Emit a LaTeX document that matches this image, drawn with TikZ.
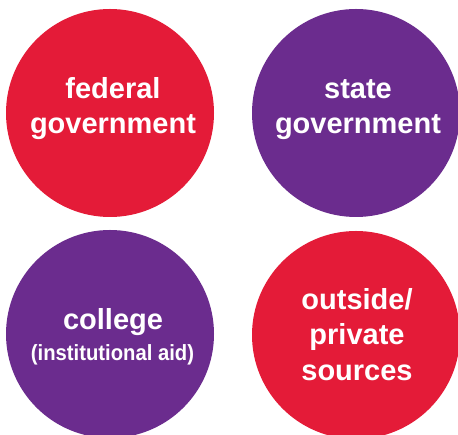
\documentclass[tikz,border=0pt]{standalone}
\usepackage{fontspec}
\setmainfont{Liberation Sans}
\definecolor{fredred}{RGB}{228,27,56}
\definecolor{fredpurple}{RGB}{107,44,142}
\begin{document}
\begin{tikzpicture}[x=1pt,y=1pt,
  disc/.style={circle,minimum size=208pt,inner sep=0pt,draw=none},
  lbl/.style={anchor=base,text=white,font=\bfseries\fontsize{29}{34}\selectfont,inner sep=0pt},
  sublbl/.style={anchor=base,text=white,font=\bfseries\fontsize{22}{26}\selectfont,inner sep=0pt,xscale=0.92}]
\useasboundingbox (0,0) rectangle (458,435);
\fill[white] (0,0) rectangle (458,435);
\node[disc,fill=fredred] (fed) at (110,322) {};
\node[disc,fill=fredpurple] (state) at (356,322) {};
\node[disc,fill=fredpurple] (college) at (110,101) {};
\node[disc,fill=fredred] (outside) at (356,100) {};
\node[lbl] (fedA) at (113,336) {federal};
\node[lbl] (fedB) at (113,301) {government};
\node[lbl] (stA) at (358,336) {state};
\node[lbl] (stB) at (358,301) {government};
\node[lbl] (colA) at (113,105) {college};
\node[sublbl] (colB) at (112.5,74) {(institutional aid)};
\node[lbl] (outA) at (357,125) {outside/};
\node[lbl] (outB) at (357,90) {private};
\node[lbl] (outC) at (357,54) {sources};
\end{tikzpicture}
\end{document}
